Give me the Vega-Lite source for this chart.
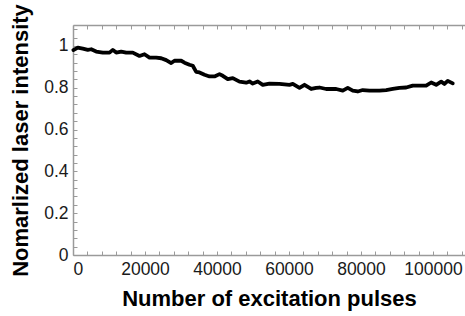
{
  "$schema": "https://vega.github.io/schema/vega-lite/v6.json",
  "width": 392,
  "height": 230,
  "autosize": {"type": "none"},
  "padding": {"left": 73, "top": 25, "right": 0, "bottom": 61},
  "background": "white",
  "config": {
    "view": {"stroke": null},
    "axis": {
      "domainColor": "#9a9a9a",
      "domainWidth": 1.5,
      "tickColor": "#9a9a9a",
      "tickWidth": 1,
      "tickSize": -4,
      "grid": false,
      "labelFont": "Liberation Sans",
      "labelFontSize": 17.5,
      "labelColor": "#1a1a1a",
      "titleFont": "Liberation Sans",
      "titleFontSize": 22,
      "titleFontWeight": "bold",
      "titleColor": "#000000"
    }
  },
  "data": {
    "values": [
      {"pulses": 100, "intensity": 0.980},
      {"pulses": 1330, "intensity": 0.992},
      {"pulses": 2720, "intensity": 0.987},
      {"pulses": 4110, "intensity": 0.981},
      {"pulses": 5060, "intensity": 0.984},
      {"pulses": 6440, "intensity": 0.973},
      {"pulses": 8280, "intensity": 0.968},
      {"pulses": 10140, "intensity": 0.968},
      {"pulses": 11060, "intensity": 0.981},
      {"pulses": 12000, "intensity": 0.968},
      {"pulses": 13390, "intensity": 0.973},
      {"pulses": 14780, "intensity": 0.968},
      {"pulses": 16610, "intensity": 0.968},
      {"pulses": 18470, "intensity": 0.952},
      {"pulses": 19860, "intensity": 0.960},
      {"pulses": 21250, "intensity": 0.944},
      {"pulses": 23110, "intensity": 0.944},
      {"pulses": 24500, "intensity": 0.941},
      {"pulses": 25890, "intensity": 0.932},
      {"pulses": 27280, "intensity": 0.918},
      {"pulses": 28190, "intensity": 0.929},
      {"pulses": 30060, "intensity": 0.929},
      {"pulses": 30970, "intensity": 0.920},
      {"pulses": 32360, "intensity": 0.910},
      {"pulses": 33280, "intensity": 0.905},
      {"pulses": 34220, "intensity": 0.876},
      {"pulses": 35140, "intensity": 0.873},
      {"pulses": 36530, "intensity": 0.862},
      {"pulses": 37920, "intensity": 0.854},
      {"pulses": 39310, "intensity": 0.854},
      {"pulses": 40690, "intensity": 0.865},
      {"pulses": 41610, "intensity": 0.857},
      {"pulses": 43000, "intensity": 0.841},
      {"pulses": 44390, "intensity": 0.846},
      {"pulses": 46250, "intensity": 0.829},
      {"pulses": 48110, "intensity": 0.824},
      {"pulses": 49030, "intensity": 0.830},
      {"pulses": 49940, "intensity": 0.820},
      {"pulses": 51330, "intensity": 0.830},
      {"pulses": 52720, "intensity": 0.814},
      {"pulses": 54580, "intensity": 0.820},
      {"pulses": 57360, "intensity": 0.818},
      {"pulses": 60140, "intensity": 0.814},
      {"pulses": 61060, "intensity": 0.818},
      {"pulses": 62920, "intensity": 0.799},
      {"pulses": 64310, "intensity": 0.814},
      {"pulses": 66170, "intensity": 0.794},
      {"pulses": 67560, "intensity": 0.799},
      {"pulses": 68470, "intensity": 0.801},
      {"pulses": 70330, "intensity": 0.794},
      {"pulses": 73110, "intensity": 0.794},
      {"pulses": 74940, "intensity": 0.786},
      {"pulses": 76330, "intensity": 0.799},
      {"pulses": 77720, "intensity": 0.786},
      {"pulses": 79110, "intensity": 0.782},
      {"pulses": 80500, "intensity": 0.789},
      {"pulses": 82360, "intensity": 0.786},
      {"pulses": 85140, "intensity": 0.786},
      {"pulses": 87000, "intensity": 0.789},
      {"pulses": 88830, "intensity": 0.794},
      {"pulses": 90690, "intensity": 0.799},
      {"pulses": 92560, "intensity": 0.801},
      {"pulses": 94390, "intensity": 0.810},
      {"pulses": 96250, "intensity": 0.810},
      {"pulses": 98110, "intensity": 0.810},
      {"pulses": 99500, "intensity": 0.825},
      {"pulses": 100890, "intensity": 0.814},
      {"pulses": 102280, "intensity": 0.829},
      {"pulses": 103190, "intensity": 0.818},
      {"pulses": 104110, "intensity": 0.833},
      {"pulses": 105500, "intensity": 0.821}
    ]
  },
  "encoding": {
    "y": {
      "field": "intensity",
      "type": "quantitative",
      "scale": {"domain": [0, 1.1], "nice": false, "zero": false},
      "axis": {
        "title": "Nomarlized laser intensity",
        "values": [0, 0.04, 0.08, 0.12, 0.16, 0.2, 0.24, 0.28, 0.32, 0.36, 0.4, 0.44, 0.48, 0.52, 0.56, 0.6, 0.64, 0.68, 0.72, 0.76, 0.8, 0.84, 0.88, 0.92, 0.96, 1, 1.04, 1.08],
        "labelExpr": "round(datum.value * 100) % 20 == 0 ? format(datum.value, '~g') : ''",
        "labelPadding": 9,
        "titlePadding": 11
      }
    }
  },
  "layer": [
    {
      "mark": {"type": "line", "color": "#000000", "strokeWidth": 3.8, "strokeJoin": "round", "strokeCap": "round"},
      "encoding": {
        "x": {
          "field": "pulses",
          "type": "quantitative",
          "scale": {"domain": [0, 108900], "nice": false, "zero": false},
          "axis": {
            "orient": "bottom",
            "title": "Number of excitation pulses",
            "values": [0, 4000, 8000, 12000, 16000, 20000, 24000, 28000, 32000, 36000, 40000, 44000, 48000, 52000, 56000, 60000, 64000, 68000, 72000, 76000, 80000, 84000, 88000, 92000, 96000, 100000, 104000, 108000],
            "labelExpr": "datum.value % 20000 == 0 ? format(datum.value, 'd') : ''",
            "labelPadding": 9,
            "titlePadding": 11
          }
        }
      }
    },
    {
      "mark": {"type": "line", "opacity": 0},
      "encoding": {
        "x": {
          "field": "pulses",
          "type": "quantitative",
          "axis": {
            "orient": "top",
            "title": null,
            "labels": false,
            "values": [0, 4000, 8000, 12000, 16000, 20000, 24000, 28000, 32000, 36000, 40000, 44000, 48000, 52000, 56000, 60000, 64000, 68000, 72000, 76000, 80000, 84000, 88000, 92000, 96000, 100000, 104000, 108000]
          }
        }
      }
    }
  ],
  "resolve": {"axis": {"x": "independent"}}
}
